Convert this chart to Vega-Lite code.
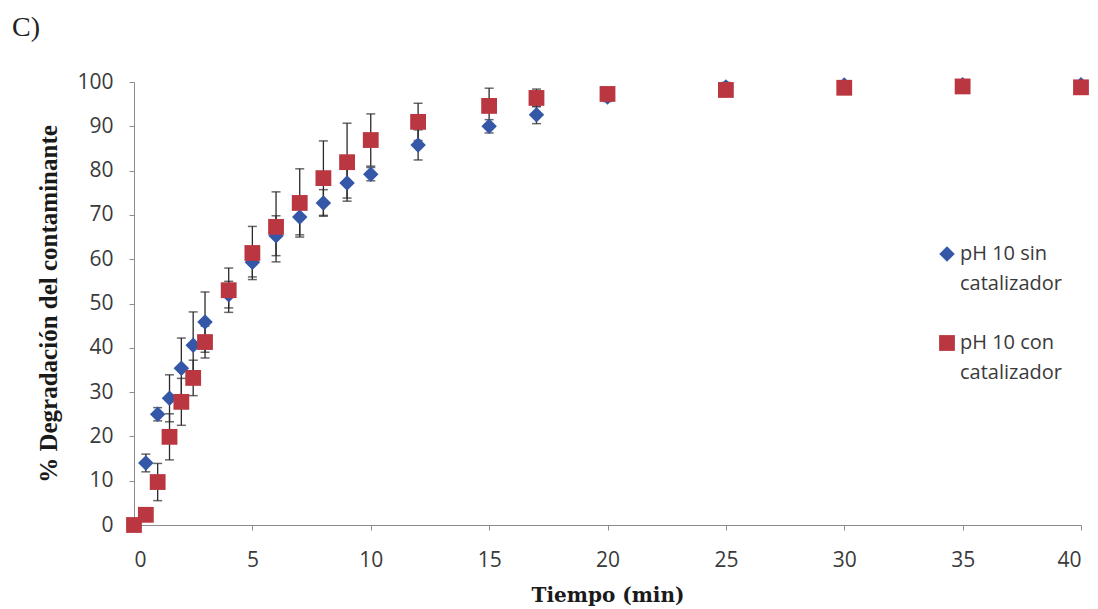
{
  "$schema": "https://vega.github.io/schema/vega-lite/v6.json",
  "width": 947,
  "height": 443,
  "autosize": {"type": "none"},
  "padding": {"left": 134, "top": 82, "right": 17, "bottom": 84},
  "background": "white",
  "title": {
    "text": "C)",
    "anchor": "start",
    "frame": "group",
    "dx": -122,
    "offset": 29,
    "font": "Liberation Serif",
    "fontSize": 28,
    "fontWeight": "normal",
    "color": "#222222"
  },
  "data": {
    "values": [
      {"t": 0, "v": 0, "e": 0, "s": "pH 10 sin catalizador"},
      {"t": 0.5, "v": 14, "e": 2, "s": "pH 10 sin catalizador"},
      {"t": 1, "v": 25, "e": 1.5, "s": "pH 10 sin catalizador"},
      {"t": 1.5, "v": 28.6, "e": 5.3, "s": "pH 10 sin catalizador"},
      {"t": 2, "v": 35.4, "e": 6.8, "s": "pH 10 sin catalizador"},
      {"t": 2.5, "v": 40.6, "e": 7.5, "s": "pH 10 sin catalizador"},
      {"t": 3, "v": 45.8, "e": 6.8, "s": "pH 10 sin catalizador"},
      {"t": 4, "v": 52, "e": 3, "s": "pH 10 sin catalizador"},
      {"t": 5, "v": 59.3, "e": 3.3, "s": "pH 10 sin catalizador"},
      {"t": 6, "v": 65.3, "e": 4.5, "s": "pH 10 sin catalizador"},
      {"t": 7, "v": 69.5, "e": 4, "s": "pH 10 sin catalizador"},
      {"t": 8, "v": 72.7, "e": 3, "s": "pH 10 sin catalizador"},
      {"t": 9, "v": 77.2, "e": 3.4, "s": "pH 10 sin catalizador"},
      {"t": 10, "v": 79.2, "e": 1.5, "s": "pH 10 sin catalizador"},
      {"t": 12, "v": 85.8, "e": 3.4, "s": "pH 10 sin catalizador"},
      {"t": 15, "v": 90, "e": 1.5, "s": "pH 10 sin catalizador"},
      {"t": 17, "v": 92.6, "e": 2, "s": "pH 10 sin catalizador"},
      {"t": 20, "v": 96.6, "e": 1, "s": "pH 10 sin catalizador"},
      {"t": 25, "v": 98.9, "e": 1, "s": "pH 10 sin catalizador"},
      {"t": 30, "v": 99.3, "e": 0.5, "s": "pH 10 sin catalizador"},
      {"t": 35, "v": 99.4, "e": 0.5, "s": "pH 10 sin catalizador"},
      {"t": 40, "v": 99.4, "e": 0.5, "s": "pH 10 sin catalizador"},
      {"t": 0, "v": 0, "e": 0, "s": "pH 10 con catalizador"},
      {"t": 0.5, "v": 2.3, "e": 1, "s": "pH 10 con catalizador"},
      {"t": 1, "v": 9.7, "e": 4.2, "s": "pH 10 con catalizador"},
      {"t": 1.5, "v": 19.9, "e": 5.2, "s": "pH 10 con catalizador"},
      {"t": 2, "v": 27.8, "e": 5.3, "s": "pH 10 con catalizador"},
      {"t": 2.5, "v": 33.2, "e": 4, "s": "pH 10 con catalizador"},
      {"t": 3, "v": 41.3, "e": 3.6, "s": "pH 10 con catalizador"},
      {"t": 4, "v": 53, "e": 5, "s": "pH 10 con catalizador"},
      {"t": 5, "v": 61.4, "e": 6, "s": "pH 10 con catalizador"},
      {"t": 6, "v": 67.3, "e": 7.9, "s": "pH 10 con catalizador"},
      {"t": 7, "v": 72.7, "e": 7.7, "s": "pH 10 con catalizador"},
      {"t": 8, "v": 78.3, "e": 8.4, "s": "pH 10 con catalizador"},
      {"t": 9, "v": 81.9, "e": 8.8, "s": "pH 10 con catalizador"},
      {"t": 10, "v": 86.9, "e": 5.9, "s": "pH 10 con catalizador"},
      {"t": 12, "v": 91, "e": 4.2, "s": "pH 10 con catalizador"},
      {"t": 15, "v": 94.6, "e": 4, "s": "pH 10 con catalizador"},
      {"t": 17, "v": 96.4, "e": 2, "s": "pH 10 con catalizador"},
      {"t": 20, "v": 97.3, "e": 1, "s": "pH 10 con catalizador"},
      {"t": 25, "v": 98.2, "e": 0.8, "s": "pH 10 con catalizador"},
      {"t": 30, "v": 98.7, "e": 0.5, "s": "pH 10 con catalizador"},
      {"t": 35, "v": 99.0, "e": 0.5, "s": "pH 10 con catalizador"},
      {"t": 40, "v": 98.8, "e": 0.5, "s": "pH 10 con catalizador"}
    ]
  },
  "layer": [
    {
      "mark": {"type": "errorbar", "color": "#2a2a2a", "thickness": 1.3, "ticks": {"size": 9, "thickness": 1.5, "color": "#2a2a2a"}},
      "encoding": {
        "x": {"field": "t", "type": "quantitative", "title": "Tiempo (min)"},
        "y": {"field": "v", "type": "quantitative", "title": "% Degradación del contaminante"},
        "yError": {"field": "e"}
      }
    },
    {
      "mark": {"type": "point", "filled": true, "opacity": 1, "strokeWidth": 0},
      "encoding": {
        "x": {
          "field": "t", "type": "quantitative",
          "scale": {"domain": [0, 40], "nice": false, "zero": false},
          "axis": {
            "values": [0, 5, 10, 15, 20, 25, 30, 35, 40],
            "title": "Tiempo (min)",
            "grid": false,
            "domainColor": "#8c8c8c",
            "tickColor": "#8c8c8c",
            "tickSize": 5,
            "labelPadding": 19,
            "labelFont": "Open Sans",
            "labelFontSize": 21,
            "labelColor": "#3a3a3a",
            "titleFont": "DejaVu Serif",
            "titleFontSize": 20,
            "titleFontWeight": "bold",
            "titleColor": "#1a1a1a",
            "titlePadding": 15
          }
        },
        "y": {
          "field": "v", "type": "quantitative",
          "scale": {"domain": [0, 100], "nice": false},
          "axis": {
            "values": [0, 10, 20, 30, 40, 50, 60, 70, 80, 90, 100],
            "title": "% Degradación del contaminante",
            "grid": false,
            "domainColor": "#8c8c8c",
            "tickColor": "#8c8c8c",
            "tickSize": 5,
            "labelPadding": 16,
            "labelFont": "Open Sans",
            "labelFontSize": 21,
            "labelColor": "#3a3a3a",
            "titleFont": "Liberation Serif",
            "titleFontSize": 25,
            "titleFontWeight": "bold",
            "titleColor": "#1a1a1a",
            "titlePadding": 15
          }
        },
        "color": {
          "field": "s", "type": "nominal",
          "scale": {"domain": ["pH 10 sin catalizador", "pH 10 con catalizador"], "range": ["#3557a8", "#ba3741"]},
          "legend": {
            "title": null,
            "orient": "none",
            "legendX": 803,
            "legendY": 162,
            "padding": 0,
            "rowPadding": 39,
            "labelOffset": 3,
            "labelFont": "Open Sans",
            "labelFontSize": 20,
            "labelColor": "#3a3a3a",
            "labelBaseline": "middle",
            "labelLimit": 300,
            "labelExpr": "datum.label == 'pH 10 sin catalizador' ? ['pH 10 sin', 'catalizador'] : ['pH 10 con', 'catalizador']"
          }
        },
        "shape": {
          "field": "s", "type": "nominal",
          "scale": {"domain": ["pH 10 sin catalizador", "pH 10 con catalizador"], "range": ["diamond", "square"]}
        },
        "size": {
          "field": "s", "type": "nominal",
          "scale": {"domain": ["pH 10 sin catalizador", "pH 10 con catalizador"], "range": [240, 250]}
        }
      }
    }
  ],
  "config": {
    "view": {"stroke": null},
    "style": {"guide-label": {"lineHeight": 30}}
  }
}
